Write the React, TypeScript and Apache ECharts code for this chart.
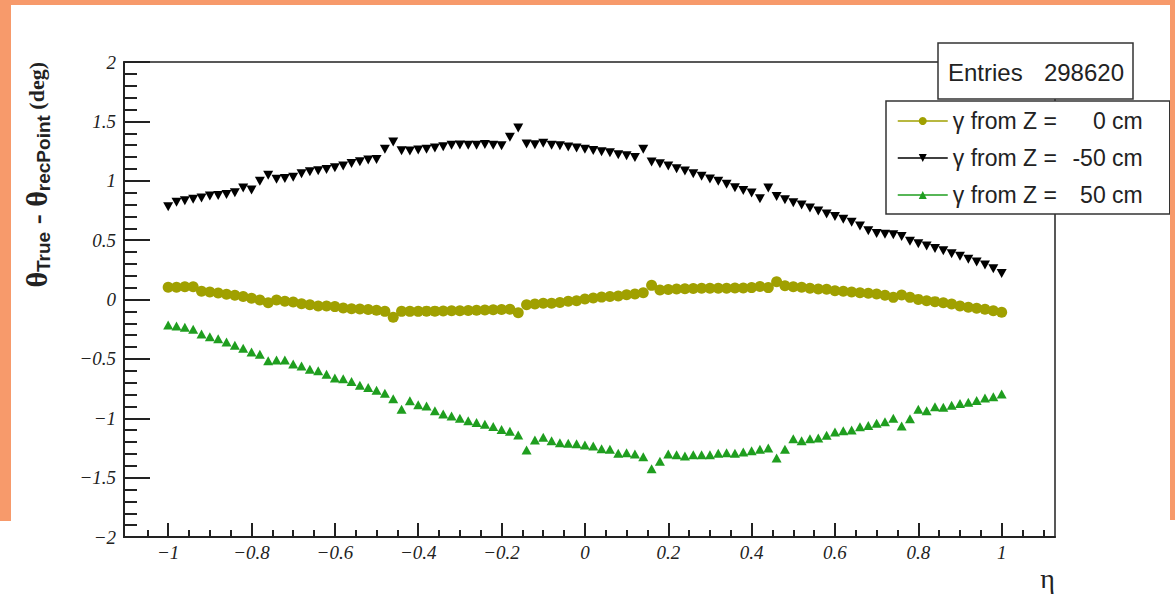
import React, { useEffect, useRef } from "react";
import * as echarts from "echarts";

// η bin centres: -1.00 … 1.00 in steps of 0.02
const etaValues: number[] = [
  -1.0, -0.98, -0.96, -0.94, -0.92, -0.9, -0.88, -0.86, -0.84, -0.82,
  -0.8, -0.78, -0.76, -0.74, -0.72, -0.7, -0.68, -0.66, -0.64, -0.62,
  -0.6, -0.58, -0.56, -0.54, -0.52, -0.5, -0.48, -0.46, -0.44, -0.42,
  -0.4, -0.38, -0.36, -0.34, -0.32, -0.3, -0.28, -0.26, -0.24, -0.22,
  -0.2, -0.18, -0.16, -0.14, -0.12, -0.1, -0.08, -0.06, -0.04, -0.02,
  0.0, 0.02, 0.04, 0.06, 0.08, 0.1, 0.12, 0.14, 0.16, 0.18,
  0.2, 0.22, 0.24, 0.26, 0.28, 0.3, 0.32, 0.34, 0.36, 0.38,
  0.4, 0.42, 0.44, 0.46, 0.48, 0.5, 0.52, 0.54, 0.56, 0.58,
  0.6, 0.62, 0.64, 0.66, 0.68, 0.7, 0.72, 0.74, 0.76, 0.78,
  0.8, 0.82, 0.84, 0.86, 0.88, 0.9, 0.92, 0.94, 0.96, 0.98,
  1.0,
];

// γ from Z = 0 cm
const dThetaZ0: number[] = [
  0.103, 0.103, 0.108, 0.108, 0.069, 0.063, 0.055, 0.045, 0.035, 0.025,
  0.01, -0.005, -0.027, -0.004, -0.015, -0.021, -0.035, -0.045, -0.055, -0.055,
  -0.06, -0.072, -0.077, -0.08, -0.085, -0.09, -0.1, -0.15, -0.1, -0.1,
  -0.1, -0.098, -0.098, -0.096, -0.095, -0.094, -0.092, -0.09, -0.089, -0.087,
  -0.085, -0.083, -0.111, -0.044, -0.038, -0.032, -0.032, -0.025, -0.015, -0.01,
  0.005, 0.013, 0.02, 0.025, 0.03, 0.04, 0.046, 0.057, 0.119, 0.08,
  0.085, 0.088, 0.09, 0.092, 0.094, 0.095, 0.095, 0.095, 0.096, 0.097,
  0.1, 0.11, 0.1, 0.15, 0.115, 0.108, 0.103, 0.094, 0.088, 0.086,
  0.074, 0.069, 0.063, 0.057, 0.052, 0.046, 0.035, 0.018, 0.038, 0.018,
  0.001, -0.01, -0.018, -0.027, -0.038, -0.055, -0.066, -0.074, -0.083, -0.094,
  -0.108,
];

// γ from Z = -50 cm
const dThetaZm50: number[] = [
  0.782, 0.818, 0.832, 0.844, 0.855, 0.872, 0.875, 0.885, 0.9, 0.94,
  0.922, 0.995, 1.046, 1.012, 1.02, 1.03, 1.06, 1.076, 1.085, 1.095,
  1.11, 1.125, 1.145, 1.16, 1.175, 1.18, 1.265, 1.326, 1.253, 1.25,
  1.26, 1.265, 1.275, 1.287, 1.298, 1.302, 1.298, 1.3, 1.306, 1.3,
  1.295, 1.366, 1.444, 1.31, 1.304, 1.315, 1.3, 1.295, 1.285, 1.275,
  1.265, 1.255, 1.245, 1.235, 1.22, 1.21, 1.195, 1.265, 1.158, 1.144,
  1.124, 1.102, 1.082, 1.06, 1.037, 1.015, 0.995, 0.97, 0.941, 0.918,
  0.896, 0.848, 0.939, 0.868, 0.84, 0.815, 0.795, 0.77, 0.745, 0.72,
  0.7, 0.675, 0.65, 0.62, 0.58, 0.555, 0.55, 0.545, 0.53, 0.49,
  0.47, 0.45, 0.43, 0.41, 0.385, 0.365, 0.34, 0.315, 0.29, 0.26,
  0.22,
];

// γ from Z = 50 cm
const dThetaZp50: number[] = [
  -0.215, -0.223, -0.234, -0.251, -0.291, -0.313, -0.33, -0.358, -0.385, -0.41,
  -0.442, -0.46, -0.515, -0.51, -0.51, -0.543, -0.56, -0.588, -0.6, -0.63,
  -0.661, -0.667, -0.69, -0.723, -0.74, -0.765, -0.79, -0.835, -0.925, -0.852,
  -0.886, -0.897, -0.936, -0.964, -0.98, -1.0, -1.02, -1.035, -1.05, -1.07,
  -1.095, -1.11, -1.14, -1.268, -1.184, -1.161, -1.19, -1.206, -1.211, -1.215,
  -1.225, -1.234, -1.256, -1.262, -1.295, -1.29, -1.3, -1.324, -1.425, -1.363,
  -1.301, -1.307, -1.318, -1.307, -1.307, -1.307, -1.295, -1.29, -1.295, -1.284,
  -1.273, -1.262, -1.251, -1.335, -1.262, -1.172, -1.189, -1.172, -1.166, -1.144,
  -1.116, -1.105, -1.099, -1.071, -1.06, -1.043, -1.03, -1.0, -1.065, -1.004,
  -0.925, -0.936, -0.903, -0.908, -0.891, -0.875, -0.865, -0.85, -0.83, -0.818,
  -0.796,
];

const seriesNames: string[] = ["Z0", "Zm50", "Zp50"];
const legendLabels: string[] = ["0 cm", "-50 cm", "50 cm"];
const entriesCount = "298620";

const xMajorTicks: number[] = [-1, -0.8, -0.6, -0.4, -0.2, 0, 0.2, 0.4, 0.6, 0.8, 1];
const xMinorTicks: number[] = [
  -1.05, -0.95, -0.9, -0.85, -0.75, -0.7, -0.65, -0.55, -0.5, -0.45,
  -0.35, -0.3, -0.25, -0.15, -0.1, -0.05, 0.05, 0.1, 0.15, 0.25, 0.3,
  0.35, 0.45, 0.5, 0.55, 0.65, 0.7, 0.75, 0.85, 0.9, 0.95, 1.05, 1.1,
];

const X_MIN = -1.106;
const X_MAX = 1.128;

const fmtTick = (v: number): string => {
  const s = String(Math.round(v * 10) / 10);
  return s.startsWith("-") ? "\u2212" + s.slice(1) : s;
};

const pairs = (ys: number[]) => etaValues.map((x, i) => [x, ys[i]]);

const SERIF = "'Liberation Serif', 'Times New Roman', serif";
const SANS = "'Liberation Sans', Arial, sans-serif";

const TICK_FONT = {
  fontFamily: SERIF,
  fontStyle: "italic" as const,
  fontSize: 19,
  color: "#222",
};

export default function App() {
  const ref = useRef<HTMLDivElement | null>(null);

  useEffect(() => {
    if (!ref.current) return;
    const chart = echarts.init(ref.current, undefined, { renderer: "svg" });

    const downTriangle = "path://M0,0 L10,0 L5,9 Z";

    const legendRich = {
      a: { fontFamily: SANS, fontSize: 23, color: "#222", width: 110, lineHeight: 24 },
      b: { fontFamily: SANS, fontSize: 23, color: "#222", width: 80, align: "right" as const, lineHeight: 24 },
    };

    chart.setOption({
      animation: false,
      backgroundColor: "#ffffff",
      grid: {
        left: 124,
        top: 62,
        right: 120,
        bottom: 59,
        show: true,
        borderColor: "#222",
        borderWidth: 1.5,
        backgroundColor: "transparent",
      },
      xAxis: [
        {
          type: "value",
          min: X_MIN,
          max: X_MAX,
          axisLine: { show: true, onZero: false, lineStyle: { color: "#222", width: 2 } },
          axisTick: { show: true, inside: true, length: 14, customValues: xMajorTicks, lineStyle: { color: "#222", width: 2 } },
          axisLabel: { show: true, customValues: xMajorTicks, formatter: fmtTick, margin: 6, ...TICK_FONT },
          splitLine: { show: false },
        },
        {
          type: "value",
          min: X_MIN,
          max: X_MAX,
          position: "bottom",
          axisLine: { show: false, onZero: false },
          axisTick: { show: true, inside: true, length: 7, customValues: xMinorTicks, lineStyle: { color: "#222", width: 2 } },
          axisLabel: { show: false },
          splitLine: { show: false },
        },
      ],
      yAxis: {
        type: "value",
        min: -2,
        max: 2,
        interval: 0.5,
        axisLine: { show: true, onZero: false, lineStyle: { color: "#222", width: 2 } },
        axisTick: { show: true, inside: true, length: 26, lineStyle: { color: "#222", width: 2 } },
        minorTick: { show: true, splitNumber: 5, length: 13, lineStyle: { color: "#222", width: 2 } },
        axisLabel: { formatter: fmtTick, margin: 8, ...TICK_FONT },
        splitLine: { show: false },
      },
      legend: {
        orient: "vertical",
        left: 886,
        top: 101,
        padding: [8, 27, 7, 11],
        itemWidth: 50,
        itemHeight: 10,
        itemGap: 13,
        backgroundColor: "#ffffff",
        borderColor: "#333",
        borderWidth: 1.5,
        borderRadius: 0,
        data: seriesNames,
        lineStyle: { width: 1.5, opacity: 1 },
        textStyle: { lineHeight: 24, fontSize: 23, fontFamily: SANS, rich: legendRich },
        formatter: (name: string) => {
          const i = seriesNames.indexOf(name);
          return `{a|\u03b3 from Z =}{b|${legendLabels[i]}}`;
        },
        selectedMode: false,
      },
      graphic: [
        // orange slide border
        { type: "rect", z: 200, shape: { x: 0, y: 0, width: 11, height: 521 }, style: { fill: "#f79a6b" } },
        { type: "rect", z: 200, shape: { x: 0, y: 0, width: 1175, height: 5 }, style: { fill: "#f79a6b" } },
        { type: "rect", z: 200, shape: { x: 1170, y: 0, width: 5, height: 520 }, style: { fill: "#f79a6b" } },
        // statistics box
        { type: "rect", z: 100, shape: { x: 938, y: 43, width: 195, height: 56 }, style: { fill: "#fff", stroke: "#333", lineWidth: 1.5 } },
        {
          type: "text", z: 101, x: 948, y: 72,
          style: { text: "Entries", fontFamily: SANS, fontSize: 24, fill: "#222", align: "left", verticalAlign: "middle" },
        },
        {
          type: "text", z: 101, x: 1124, y: 72,
          style: { text: entriesCount, fontFamily: SANS, fontSize: 24, fill: "#222", align: "right", verticalAlign: "middle" },
        },
        // x-axis title
        {
          type: "text", z: 101, x: 1055, y: 578,
          style: { text: "\u03b7", fontFamily: SERIF, fontSize: 28, fill: "#222", align: "right", verticalAlign: "middle" },
        },
        // y-axis title
        {
          type: "text", z: 101, x: 36, y: 62, rotation: Math.PI / 2,
          style: {
            text: "{t|\u03b8}{s|True}{t| - \u03b8}{s|recPoint}{u| (deg)}",
            align: "right",
            verticalAlign: "middle",
            rich: {
              t: { fontFamily: SERIF, fontWeight: "bold", fontSize: 30, fill: "#222", lineHeight: 34, verticalAlign: "middle" },
              s: { fontFamily: SANS, fontWeight: "bold", fontSize: 19, fill: "#222", lineHeight: 19, verticalAlign: "bottom" },
              u: { fontFamily: SERIF, fontWeight: "bold", fontSize: 22, fill: "#222", lineHeight: 34, verticalAlign: "middle" },
            },
          },
        },
      ],
      series: [
        {
          name: seriesNames[0],
          type: "line",
          data: pairs(dThetaZ0),
          symbol: "circle",
          symbolSize: 11,
          itemStyle: { color: "#a0a000" },
          lineStyle: { width: 0, color: "#a0a000" },
          z: 3,
        },
        {
          name: seriesNames[1],
          type: "line",
          data: pairs(dThetaZm50),
          symbol: downTriangle,
          symbolSize: [10, 9],
          itemStyle: { color: "#000" },
          lineStyle: { width: 0, color: "#000" },
          z: 3,
        },
        {
          name: seriesNames[2],
          type: "line",
          data: pairs(dThetaZp50),
          symbol: "triangle",
          symbolSize: [10, 9],
          itemStyle: { color: "#1f9e1f" },
          lineStyle: { width: 0, color: "#1f9e1f" },
          z: 3,
        },
      ],
    });

    return () => chart.dispose();
  }, []);

  return (
    <div
      ref={ref}
      style={{ position: "fixed", left: 0, top: 0, width: 1175, height: 596, background: "#fff" }}
    />
  );
}
